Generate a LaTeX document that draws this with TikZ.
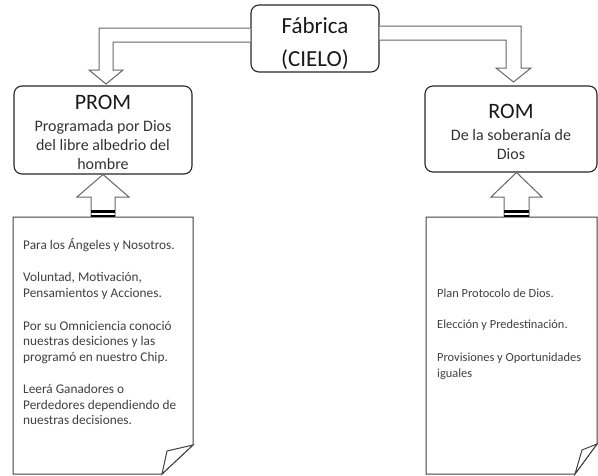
\documentclass[tikz,border=0pt]{standalone}
\usepackage{fontspec}
\setmainfont{Carlito}
\usetikzlibrary{calc}
\begin{document}
\begin{tikzpicture}[x=1pt,y=-1pt,
  box/.style={draw=black!85, line width=1.1pt, rounded corners=8pt, fill=white, inner sep=0pt},
  ttl/.style={font=\fontsize{22}{26}\selectfont, inner sep=0pt, anchor=base, text=black!90},
  sub/.style={font=\fontsize{16}{18}\selectfont, inner sep=0pt, anchor=base, text=black!80},
  doctxt/.style={font=\fontsize{13.3}{16}\selectfont, inner sep=0pt, anchor=base west, text=black!75},
  arr/.style={draw=black!60, line width=1pt, fill=white, line join=miter},
  docpage/.style={draw=black!75, line width=1pt, fill=white, line join=miter},
  bar/.style={draw=black, line width=2.4pt}]
\useasboundingbox (0,0) rectangle (598,475);

% boxes
\node[box, minimum width=128pt, minimum height=67pt] (fab) at (315,38.5) {};
\node[box, minimum width=178pt, minimum height=88pt] (prom) at (103,130) {};
\node[box, minimum width=172pt, minimum height=86pt] (rom) at (511,129) {};

% box texts
\node[ttl, font=\fontsize{23}{27}\selectfont] (fabt1) at (315,33) {Fábrica};
\node[ttl, font=\fontsize{23}{27}\selectfont] (fabt2) at (315,66) {(CIELO)};
\node[ttl] (promt) at (103,109.5) {PROM};
\node[sub] (proms1) at (103,131.5) {Programada por Dios};
\node[sub] (proms2) at (103,150.5) {del libre albedrio del};
\node[sub] (proms3) at (103,169) {hombre};
\node[ttl] (romt) at (511,118.5) {ROM};
\node[sub] (roms1) at (511,140.5) {De la soberanía de};
\node[sub] (roms2) at (511,159.5) {Dios};

% bent arrows from the factory
\draw[arr] (fab.west |- 0,28) -- (99,28) -- (99,70) -- (89,70) -- (106,84)
  -- (123,70) -- (113,70) -- (113,42) -- (fab.west |- 0,42);
\draw[arr] (fab.east |- 0,26) -- (521,26) -- (521,68) -- (531,68) -- (513.5,82)
  -- (496,68) -- (506,68) -- (506,40) -- (fab.east |- 0,40);

% documents
\draw[docpage] (13,217) coordinate (ldtl) -- (193,217) coordinate (ldtr)
  -- (193,445) coordinate (ldc) -- (162,474) coordinate (ldb) -- (13,474) -- cycle;
\draw[docpage] (ldc) -- (167,451) -- (ldb) -- cycle;
\draw[docpage] (426,217) coordinate (rdtl) -- (597,217) coordinate (rdtr)
  -- (597,444) coordinate (rdc) -- (575,474) coordinate (rdb) -- (426,474) -- cycle;
\draw[docpage] (rdc) -- (582,450) -- (rdb) -- cycle;

% up arrows from documents to boxes
\draw[arr] (91,217) -- (91,197) -- (77,197) -- (103,174.5) -- (129,197) -- (115,197) -- (115,217);
\draw[bar] (91,211.3) -- (115,211.3);
\draw[bar] (91,215.7) -- (115,215.7);
\draw[arr] (504,217) -- (504,197) -- (491,197) -- (516.5,172.5) -- (542,197) -- (529,197) -- (529,217);
\draw[bar] (504,211.3) -- (529,211.3);
\draw[bar] (504,215.7) -- (529,215.7);

% document texts
\node[doctxt] (l1) at (23,249) {Para los Ángeles y Nosotros.};
\node[doctxt] (l2) at (23,281) {Voluntad, Motivación,};
\node[doctxt] (l3) at (23,297) {Pensamientos y Acciones.};
\node[doctxt] (l4) at (23,330) {Por su Omniciencia conoció};
\node[doctxt] (l5) at (23,345) {nuestras desiciones y las};
\node[doctxt] (l6) at (23,361) {programó en nuestro Chip.};
\node[doctxt] (l7) at (23,393) {Leerá Ganadores o};
\node[doctxt] (l8) at (23,409) {Perdedores dependiendo de};
\node[doctxt] (l9) at (23,424) {nuestras decisiones.};

\node[doctxt, font=\fontsize{12.4}{15}\selectfont] (r1) at (437,297) {Plan Protocolo de Dios.};
\node[doctxt, font=\fontsize{12.4}{15}\selectfont] (r2) at (437,328) {Elección y Predestinación.};
\node[doctxt, font=\fontsize{12.4}{15}\selectfont] (r3) at (437,361) {Provisiones y Oportunidades};
\node[doctxt, font=\fontsize{12.4}{15}\selectfont] (r4) at (437,377) {iguales};
\end{tikzpicture}
\end{document}
